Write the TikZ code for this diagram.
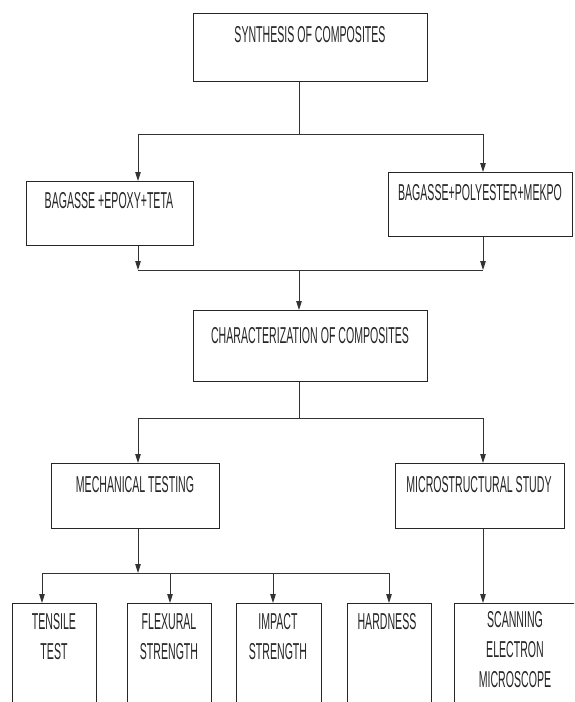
\documentclass[tikz,border=0pt]{standalone}
\usepackage{fontspec}
\newfontfamily\cf{Liberation Sans}[FakeStretch=0.46]
\usetikzlibrary{arrows.meta}
\begin{document}
\begin{tikzpicture}[x=1pt,y=-1pt,
  box/.style={draw=black!85,line width=1pt,inner sep=0,anchor=north west},
  lbl/.style={font=\cf\fontsize{23}{30}\selectfont,inner sep=0,anchor=north,align=center,text=black!85},
  con/.style={draw=black!80,line width=1pt},
  arr/.style={con,-{Triangle[length=9pt,width=5.5pt]}}]
\useasboundingbox[fill=white] (0,0) rectangle (574,702);
\clip (0,0) rectangle (574,702);
% boxes
\node[box,minimum width=234pt,minimum height=68pt] (syn) at (193,13) {};
\node[box,minimum width=167pt,minimum height=64pt] (bl) at (26,181) {};
\node[box,minimum width=184pt,minimum height=64pt] (br) at (388,172) {};
\node[box,minimum width=234pt,minimum height=71pt] (ch) at (193,310) {};
\node[box,minimum width=168pt,minimum height=65pt] (mech) at (51,463) {};
\node[box,minimum width=169pt,minimum height=65pt] (micro) at (395,463) {};
\node[box,minimum width=84pt,minimum height=120pt] (tens) at (12,603) {};
\node[box,minimum width=84pt,minimum height=120pt] (flex) at (127,603) {};
\node[box,minimum width=85pt,minimum height=120pt] (imp) at (236,603) {};
\node[box,minimum width=84pt,minimum height=120pt] (hard) at (347,603) {};
\node[box,minimum width=150pt,minimum height=120pt] (sem) at (454,603) {};
% labels
\node[lbl] (tsyn) at (310,26.5) {SYNTHESIS OF COMPOSITES};
\node[lbl] (tbl) at (109,192.5) {BAGASSE +EPOXY+TETA};
\node[lbl] (tbr) at (480,184.5) {BAGASSE+POLYESTER+MEKPO};
\node[lbl] (tch) at (310,327.5) {CHARACTERIZATION OF COMPOSITES};
\node[lbl] (tmech) at (135,476.5) {MECHANICAL TESTING};
\node[lbl] (tmicro) at (479,476.5) {MICROSTRUCTURAL STUDY};
\node[lbl] (ttens) at (54,613.5) {TENSILE\\TEST};
\node[lbl] (tflex) at (169,613.5) {FLEXURAL\\STRENGTH};
\node[lbl] (timp) at (278,613.5) {IMPACT\\STRENGTH};
\node[lbl] (thard) at (387,613.5) {HARDNESS};
\node[lbl] (tsem) at (515,611.5) {SCANNING\\ELECTRON\\MICROSCOPE};
% junction coordinates
\coordinate (j1) at (299,134);
\coordinate (j1l) at (138,134);
\coordinate (j1r) at (483,134);
\coordinate (j2) at (299,270);
\coordinate (j2l) at (138,270);
\coordinate (j2r) at (483,270);
\coordinate (j3) at (299,418);
\coordinate (j3l) at (138,418);
\coordinate (j3r) at (483,418);
\coordinate (j4) at (138,573);
\coordinate (j4a) at (42,573);
\coordinate (j4b) at (170,573);
\coordinate (j4c) at (273,573);
\coordinate (j4d) at (389,573);
% connectors
\draw[con] (syn.south -| j1) -- (j1);
\draw[con] (j1l) -- (j1r);
\draw[arr] (j1l) -- (j1l |- bl.north);
\draw[arr] (j1r) -- (j1r |- br.north);
\draw[arr] (bl.south -| j2l) -- (j2l);
\draw[arr] (br.south -| j2r) -- (j2r);
\draw[con] (j2l) -- (j2r);
\draw[arr] (j2) -- (j2 |- ch.north);
\draw[con] (ch.south -| j3) -- (j3);
\draw[con] (j3l) -- (j3r);
\draw[arr] (j3l) -- (j3l |- mech.north);
\draw[arr] (j3r) -- (j3r |- micro.north);
\draw[arr] (mech.south -| j4) -- (j4);
\draw[con] (j4a) -- (j4d);
\draw[arr] (j4a) -- (j4a |- tens.north);
\draw[arr] (j4b) -- (j4b |- flex.north);
\draw[arr] (j4c) -- (j4c |- imp.north);
\draw[arr] (j4d) -- (j4d |- hard.north);
\draw[arr] (micro.south -| j3r) -- (j3r |- sem.north);
\end{tikzpicture}
\end{document}
